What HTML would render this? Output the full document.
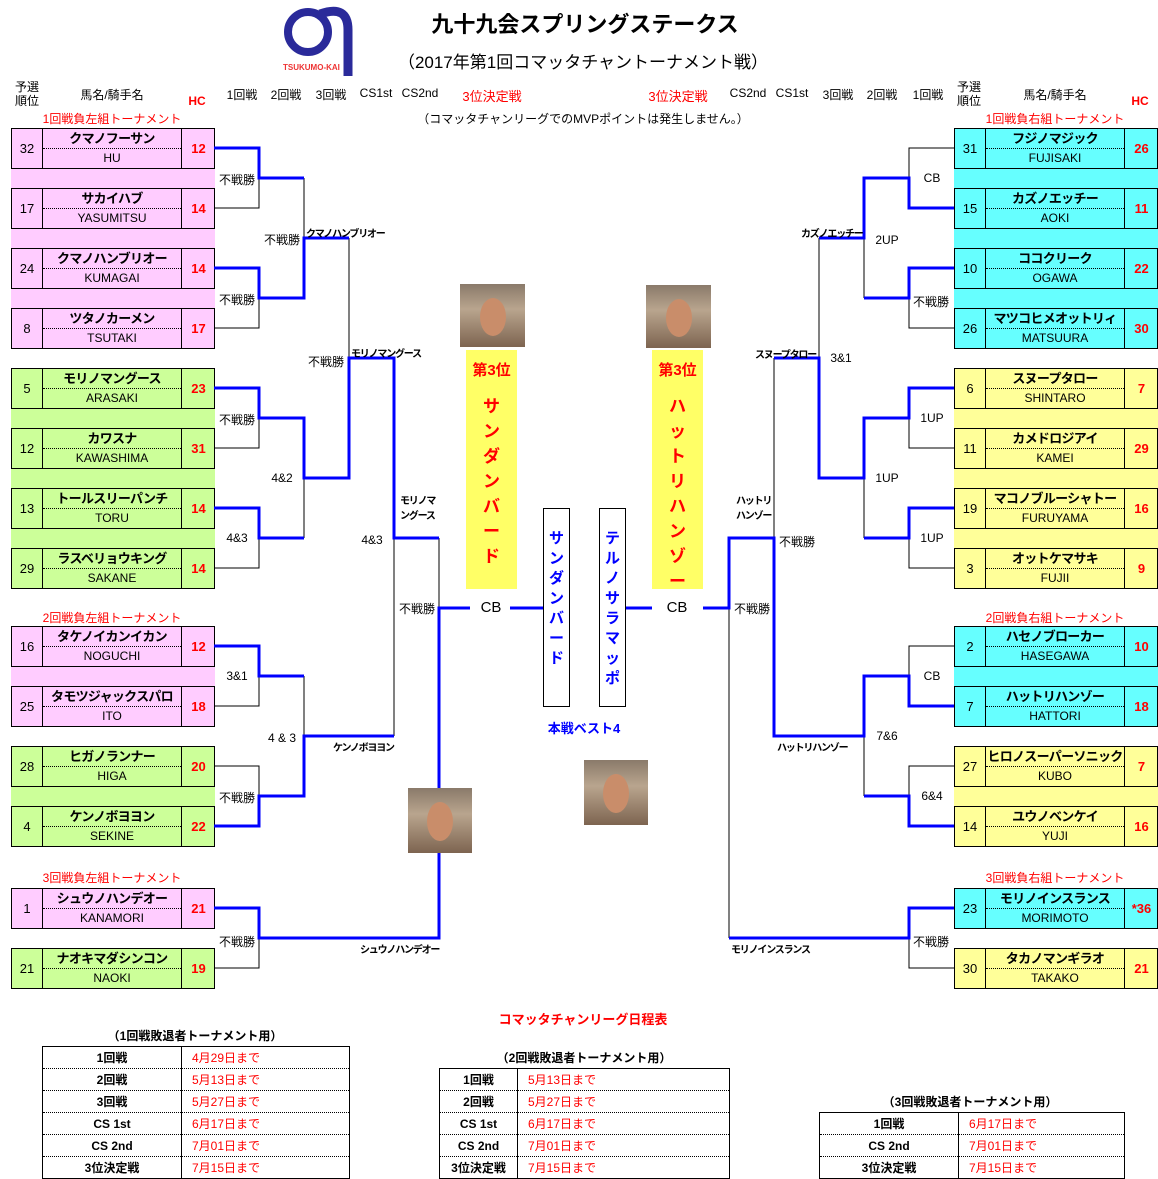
<!DOCTYPE html>
<html><head><meta charset="utf-8">
<style>
*{margin:0;padding:0}
body{width:1158px;height:1177px;position:relative;background:#fff;font-family:"Liberation Sans","Noto Sans CJK JP",sans-serif;overflow:hidden;color:#000}
.a{position:absolute;white-space:nowrap}
.c{position:absolute;white-space:nowrap;transform:translateX(-50%)}
.t{font-size:12px}
.b{position:absolute;width:204px;height:41px;border:1px solid #000;box-sizing:border-box}
.b i{position:absolute;left:0;top:0;width:30px;height:39px;border-right:1px solid #000;font-style:normal;font-size:13px;line-height:39px;text-align:center}
.b b{position:absolute;left:31px;top:0;width:138px;height:19px;border-bottom:1px dotted #000;font-size:13px;letter-spacing:-0.7px;line-height:19px;text-align:center;white-space:nowrap;overflow:hidden}
.b u{position:absolute;left:31px;top:20px;width:138px;height:19px;text-decoration:none;font-size:12px;line-height:19px;text-align:center}
.b s{position:absolute;left:169px;top:0;width:33px;height:39px;border-left:1px solid #000;text-decoration:none;color:#f00;font-weight:bold;font-size:13px;line-height:39px;text-align:center}
.pk{background:#ffccff}.gr{background:#ccff99}.cy{background:#66ffff}.ye{background:#ffff99}
.band{position:absolute;width:204px}
.red{color:#f00}
.lb{font-size:10px;font-weight:bold;letter-spacing:-1.2px}
table{position:absolute;border-collapse:collapse;font-size:12px}
td{border-left:1px solid #000;border-right:1px solid #000;border-bottom:1px dotted #000;height:21px;padding:0}
tr:first-child td{border-top:1px solid #000}
tr:last-child td{border-bottom:1px solid #000}
td.k{font-weight:bold;text-align:center}
td.v{color:#f00;padding-left:10px}
.ph{position:absolute;background:linear-gradient(180deg,#8a7a6a 0%,#b9a58e 40%,#7d6450 100%);overflow:hidden}
.ph:after{content:"";position:absolute;left:30%;top:22%;width:40%;height:60%;border-radius:50%;background:#c98d6a}
.vb{position:absolute;border:1px solid #000;box-sizing:border-box;color:#00f;font-weight:bold;font-size:15px;text-align:center;line-height:20px;padding-top:18px}
.yb{position:absolute;background:#ffff66;color:#f00;font-weight:bold;text-align:center}
</style></head><body>

<svg class="a" style="left:278px;top:0" width="80" height="78">
<circle cx="30" cy="32" r="20" fill="none" stroke="#2a2a9a" stroke-width="8"/>
<path d="M42 14 Q70 4 70 30 L70 76" fill="none" stroke="#2a2a9a" stroke-width="9"/>
<text x="5" y="70" font-size="8" font-weight="bold" fill="#e33" font-family="Liberation Sans">TSUKUMO-KAI</text>
</svg>
<div class="c" style="left:585px;top:7px;font-size:22px;font-weight:bold">九十九会スプリングステークス</div>
<div class="c" style="left:583px;top:48px;font-size:17px">（2017年第1回コマッタチャントーナメント戦）</div>

<div class="c t" style="left:27px;top:80px;line-height:14px;text-align:center">予選<br>順位</div>
<div class="c t" style="left:112px;top:86px">馬名/騎手名</div>
<div class="c t red" style="left:197px;top:94px;font-weight:bold">HC</div>
<div class="c t" style="left:242px;top:86px">1回戦</div>
<div class="c t" style="left:286px;top:86px">2回戦</div>
<div class="c t" style="left:331px;top:86px">3回戦</div>
<div class="c t" style="left:376px;top:86px">CS1st</div>
<div class="c t" style="left:420px;top:86px">CS2nd</div>
<div class="c t red" style="left:492px;top:86px;font-size:13px">3位決定戦</div>
<div class="c t red" style="left:678px;top:86px;font-size:13px">3位決定戦</div>
<div class="c t" style="left:748px;top:86px">CS2nd</div>
<div class="c t" style="left:792px;top:86px">CS1st</div>
<div class="c t" style="left:838px;top:86px">3回戦</div>
<div class="c t" style="left:882px;top:86px">2回戦</div>
<div class="c t" style="left:928px;top:86px">1回戦</div>
<div class="c t" style="left:969px;top:80px;line-height:14px;text-align:center">予選<br>順位</div>
<div class="c t" style="left:1055px;top:86px">馬名/騎手名</div>
<div class="c t red" style="left:1140px;top:94px;font-weight:bold">HC</div>

<div class="c t red" style="left:112px;top:110px">1回戦負左組トーナメント</div>
<div class="c t" style="left:583px;top:110px">（コマッタチャンリーグでのMVPポイントは発生しません。）</div>
<div class="c t red" style="left:1055px;top:110px">1回戦負右組トーナメント</div>
<div class="c t red" style="left:112px;top:609px">2回戦負左組トーナメント</div>
<div class="c t red" style="left:1055px;top:609px">2回戦負右組トーナメント</div>
<div class="c t red" style="left:112px;top:869px">3回戦負左組トーナメント</div>
<div class="c t red" style="left:1055px;top:869px">3回戦負右組トーナメント</div>

<div class="band pk" style="left:11px;top:128px;height:220px"></div>
<div class="band gr" style="left:11px;top:368px;height:220px"></div>
<div class="band pk" style="left:11px;top:626px;height:100px"></div>
<div class="band gr" style="left:11px;top:746px;height:100px"></div>
<div class="band cy" style="left:954px;top:128px;height:220px"></div>
<div class="band ye" style="left:954px;top:368px;height:220px"></div>
<div class="band cy" style="left:954px;top:626px;height:100px"></div>
<div class="band ye" style="left:954px;top:746px;height:100px"></div>

<div class="b pk" style="left:11px;top:128px"><i>32</i><b>クマノフーサン</b><u>HU</u><s>12</s></div>
<div class="b pk" style="left:11px;top:188px"><i>17</i><b>サカイハブ</b><u>YASUMITSU</u><s>14</s></div>
<div class="b pk" style="left:11px;top:248px"><i>24</i><b>クマノハンブリオー</b><u>KUMAGAI</u><s>14</s></div>
<div class="b pk" style="left:11px;top:308px"><i>8</i><b>ツタノカーメン</b><u>TSUTAKI</u><s>17</s></div>
<div class="b gr" style="left:11px;top:368px"><i>5</i><b>モリノマングース</b><u>ARASAKI</u><s>23</s></div>
<div class="b gr" style="left:11px;top:428px"><i>12</i><b>カワスナ</b><u>KAWASHIMA</u><s>31</s></div>
<div class="b gr" style="left:11px;top:488px"><i>13</i><b>トールスリーパンチ</b><u>TORU</u><s>14</s></div>
<div class="b gr" style="left:11px;top:548px"><i>29</i><b>ラスベリョウキング</b><u>SAKANE</u><s>14</s></div>
<div class="b pk" style="left:11px;top:626px"><i>16</i><b>タケノイカンイカン</b><u>NOGUCHI</u><s>12</s></div>
<div class="b pk" style="left:11px;top:686px"><i>25</i><b>タモツジャックスパロ</b><u>ITO</u><s>18</s></div>
<div class="b gr" style="left:11px;top:746px"><i>28</i><b>ヒガノランナー</b><u>HIGA</u><s>20</s></div>
<div class="b gr" style="left:11px;top:806px"><i>4</i><b>ケンノボヨヨン</b><u>SEKINE</u><s>22</s></div>
<div class="b pk" style="left:11px;top:888px"><i>1</i><b>シュウノハンデオー</b><u>KANAMORI</u><s>21</s></div>
<div class="b gr" style="left:11px;top:948px"><i>21</i><b>ナオキマダシンコン</b><u>NAOKI</u><s>19</s></div>

<div class="b cy" style="left:954px;top:128px"><i>31</i><b>フジノマジック</b><u>FUJISAKI</u><s>26</s></div>
<div class="b cy" style="left:954px;top:188px"><i>15</i><b>カズノエッチー</b><u>AOKI</u><s>11</s></div>
<div class="b cy" style="left:954px;top:248px"><i>10</i><b>ココクリーク</b><u>OGAWA</u><s>22</s></div>
<div class="b cy" style="left:954px;top:308px"><i>26</i><b>マツコヒメオットリィ</b><u>MATSUURA</u><s>30</s></div>
<div class="b ye" style="left:954px;top:368px"><i>6</i><b>スヌープタロー</b><u>SHINTARO</u><s>7</s></div>
<div class="b ye" style="left:954px;top:428px"><i>11</i><b>カメドロジアイ</b><u>KAMEI</u><s>29</s></div>
<div class="b ye" style="left:954px;top:488px"><i>19</i><b>マコノブルーシャトー</b><u>FURUYAMA</u><s>16</s></div>
<div class="b ye" style="left:954px;top:548px"><i>3</i><b>オットケマサキ</b><u>FUJII</u><s>9</s></div>
<div class="b cy" style="left:954px;top:626px"><i>2</i><b>ハセノブローカー</b><u>HASEGAWA</u><s>10</s></div>
<div class="b cy" style="left:954px;top:686px"><i>7</i><b>ハットリハンゾー</b><u>HATTORI</u><s>18</s></div>
<div class="b ye" style="left:954px;top:746px"><i>27</i><b>ヒロノスーパーソニック</b><u>KUBO</u><s>7</s></div>
<div class="b ye" style="left:954px;top:806px"><i>14</i><b>ユウノベンケイ</b><u>YUJI</u><s>16</s></div>
<div class="b cy" style="left:954px;top:888px"><i>23</i><b>モリノインスランス</b><u>MORIMOTO</u><s>*36</s></div>
<div class="b ye" style="left:954px;top:948px"><i>30</i><b>タカノマンギラオ</b><u>TAKAKO</u><s>21</s></div>

<svg class="a" style="left:0;top:0" width="1158" height="1177" fill="none">
<g stroke="#000" stroke-width="1">
<path d="M214 208H259V178M214 328H259V298M304 178V238M214 448H259V418M214 568H259V538M304 478V538M349 238V358M214 706H259V676M214 766H259V796M304 676V736M394 538V736M214 968H259V938M439 538V608"/>
<path d="M954 148H909V178M954 328H909V298M864 238V298M954 448H909V418M954 568H909V538M864 478V538M819 238V358M954 646H909V676M954 766H909V796M864 736V796M774 358V538M954 968H909V938M729 608V938"/>
</g>
<g stroke="#0000ff" stroke-width="3">
<path d="M214 148H259V178H304M214 268H259V298H304V238H349M214 388H259V418H304V478H349V358H394V538H439M214 508H259V538H304M214 646H259V676H304M214 826H259V796H304V736H394M214 908H259V938H439V608H470M510 608H543"/>
<path d="M954 208H909V178H864V238H819M954 268H909V298H864M954 388H909V418H864V478H819V358H774M954 508H909V538H864M954 706H909V676H864V736H774V538H729V608H703M954 826H909V796H864M954 908H909V938H729M626 608H652"/>
</g>
</svg>

<div class="c t" style="left:237px;top:171px">不戦勝</div>
<div class="c t" style="left:237px;top:291px">不戦勝</div>
<div class="c t" style="left:282px;top:231px">不戦勝</div>
<div class="a lb" style="left:306px;top:225px">クマノハンブリオー</div>
<div class="c t" style="left:326px;top:353px">不戦勝</div>
<div class="a lb" style="left:351px;top:345px">モリノマングース</div>
<div class="c t" style="left:237px;top:411px">不戦勝</div>
<div class="c t" style="left:282px;top:471px">4&amp;2</div>
<div class="c t" style="left:237px;top:531px">4&amp;3</div>
<div class="c t" style="left:372px;top:533px">4&amp;3</div>
<div class="a lb" style="left:400px;top:494px;line-height:15px">モリノマ<br>ングース</div>
<div class="c t" style="left:417px;top:600px">不戦勝</div>
<div class="c t" style="left:237px;top:669px">3&amp;1</div>
<div class="c t" style="left:282px;top:731px">4 &amp; 3</div>
<div class="a lb" style="left:333px;top:739px">ケンノボヨヨン</div>
<div class="c t" style="left:237px;top:789px">不戦勝</div>
<div class="c t" style="left:237px;top:933px">不戦勝</div>
<div class="a lb" style="left:360px;top:941px">シュウノハンデオー</div>

<div class="c t" style="left:932px;top:171px">CB</div>
<div class="c t" style="left:931px;top:293px">不戦勝</div>
<div class="c t" style="left:887px;top:233px">2UP</div>
<div class="a lb" style="left:801px;top:225px">カズノエッチー</div>
<div class="a lb" style="left:755px;top:346px">スヌープタロー</div>
<div class="c t" style="left:841px;top:351px">3&amp;1</div>
<div class="c t" style="left:932px;top:411px">1UP</div>
<div class="c t" style="left:887px;top:471px">1UP</div>
<div class="c t" style="left:932px;top:531px">1UP</div>
<div class="a lb" style="left:736px;top:494px;line-height:15px">ハットリ<br>ハンゾー</div>
<div class="c t" style="left:797px;top:533px">不戦勝</div>
<div class="c t" style="left:752px;top:600px">不戦勝</div>
<div class="c t" style="left:932px;top:669px">CB</div>
<div class="c t" style="left:887px;top:729px">7&amp;6</div>
<div class="a lb" style="left:777px;top:739px">ハットリハンゾー</div>
<div class="c t" style="left:932px;top:789px">6&amp;4</div>
<div class="c t" style="left:931px;top:933px">不戦勝</div>
<div class="a lb" style="left:731px;top:941px">モリノインスランス</div>

<div class="ph" style="left:460px;top:284px;width:65px;height:63px"></div>
<div class="ph" style="left:646px;top:285px;width:65px;height:63px"></div>
<div class="yb" style="left:466px;top:350px;width:51px;height:239px"><div style="font-size:15px;margin-top:9px">第3位</div><div style="font-size:17px;line-height:25px;margin-top:14px">サ<br>ン<br>ダ<br>ン<br>バ<br>ー<br>ド</div></div>
<div class="yb" style="left:652px;top:350px;width:51px;height:239px"><div style="font-size:15px;margin-top:9px">第3位</div><div style="font-size:17px;line-height:25px;margin-top:14px">ハ<br>ッ<br>ト<br>リ<br>ハ<br>ン<br>ゾ<br>ー</div></div>
<div class="c" style="left:491px;top:599px;font-size:15px">CB</div>
<div class="c" style="left:677px;top:599px;font-size:15px">CB</div>
<div class="vb" style="left:543px;top:508px;width:27px;height:199px;padding-top:20px">サ<br>ン<br>ダ<br>ン<br>バ<br>ー<br>ド</div>
<div class="vb" style="left:599px;top:508px;width:27px;height:199px;padding-top:20px">テ<br>ル<br>ノ<br>サ<br>ラ<br>マ<br>ッ<br>ポ</div>
<div class="c" style="left:584px;top:718px;font-size:13px;font-weight:bold;color:#00f">本戦ベスト4</div>
<div class="ph" style="left:584px;top:760px;width:64px;height:65px"></div>
<div class="ph" style="left:408px;top:788px;width:64px;height:65px"></div>

<div class="c red" style="left:583px;top:1009px;font-size:13px;font-weight:bold">コマッタチャンリーグ日程表</div>
<div class="c" style="left:195px;top:1027px;font-size:12px;font-weight:bold">（1回戦敗退者トーナメント用）</div>
<table style="left:42px;top:1046px;width:308px">
<tr><td class="k" style="width:138px">1回戦</td><td class="v">4月29日まで</td></tr>
<tr><td class="k">2回戦</td><td class="v">5月13日まで</td></tr>
<tr><td class="k">3回戦</td><td class="v">5月27日まで</td></tr>
<tr><td class="k">CS 1st</td><td class="v">6月17日まで</td></tr>
<tr><td class="k">CS 2nd</td><td class="v">7月01日まで</td></tr>
<tr><td class="k">3位決定戦</td><td class="v">7月15日まで</td></tr>
</table>
<div class="c" style="left:584px;top:1049px;font-size:12px;font-weight:bold">（2回戦敗退者トーナメント用）</div>
<table style="left:439px;top:1068px;width:291px">
<tr><td class="k" style="width:77px">1回戦</td><td class="v">5月13日まで</td></tr>
<tr><td class="k">2回戦</td><td class="v">5月27日まで</td></tr>
<tr><td class="k">CS 1st</td><td class="v">6月17日まで</td></tr>
<tr><td class="k">CS 2nd</td><td class="v">7月01日まで</td></tr>
<tr><td class="k">3位決定戦</td><td class="v">7月15日まで</td></tr>
</table>
<div class="c" style="left:970px;top:1093px;font-size:12px;font-weight:bold">（3回戦敗退者トーナメント用）</div>
<table style="left:819px;top:1112px;width:306px">
<tr><td class="k" style="width:138px">1回戦</td><td class="v">6月17日まで</td></tr>
<tr><td class="k">CS 2nd</td><td class="v">7月01日まで</td></tr>
<tr><td class="k">3位決定戦</td><td class="v">7月15日まで</td></tr>
</table>
</body></html>
